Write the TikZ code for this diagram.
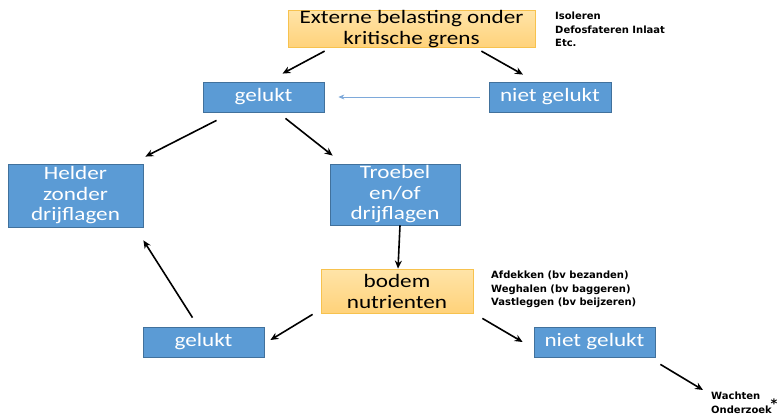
\documentclass[tikz,border=0pt]{standalone}
\usepackage{fontspec}
\setmainfont{Carlito}
\newfontfamily\boxfont[FakeStretch=1.22]{Carlito}
\newfontfamily\notefont{DejaVu Sans}
\usetikzlibrary{arrows.meta}
\definecolor{boxblue}{HTML}{5B9BD5}
\definecolor{boxblueline}{HTML}{41719C}
\definecolor{boxorangetop}{HTML}{FFE4A8}
\definecolor{boxorangebot}{HTML}{FFD27A}
\definecolor{boxorangeline}{HTML}{F7C24E}
\definecolor{thinblue}{HTML}{7EA9DA}
\begin{document}
\begin{tikzpicture}[x=1pt,y=-1pt,
    bluebox/.style={draw=boxblueline, line width=0.8pt, fill=boxblue, text=white,
      align=center, inner sep=0pt, font=\boxfont\fontsize{19}{20.5}\selectfont},
    orangebox/.style={draw=boxorangeline, line width=0.8pt, top color=boxorangetop,
      bottom color=boxorangebot, align=center, inner sep=0pt, font=\boxfont\fontsize{19}{21}\selectfont},
    note/.style={anchor=north west, align=left, inner sep=0pt,
      font=\notefont\bfseries\fontsize{10}{13.5}\selectfont},
    arr/.style={-{Stealth[length=8pt,width=7pt]}, line width=1.6pt}]
        \useasboundingbox (0,0) rectangle (780,417);

        \node[orangebox, minimum width=247pt, minimum height=36pt] (ext) at (411.5,29) {Externe belasting onder\\kritische grens};
        \node[note] (isol) at (555,12) {Isoleren\\Defosfateren Inlaat\\Etc.};

        \node[bluebox, minimum width=121pt, minimum height=30pt] (gtop) at (263.5,97) {gelukt};
        \node[bluebox, minimum width=122pt, minimum height=30pt] (ntop) at (550,97) {niet gelukt};
        \draw[arr] ([xshift=37pt,yshift=-3pt]ext.south west) -- ([xshift=19pt,yshift=8pt]gtop.north);
        \draw[arr] ([xshift=-54pt,yshift=-3pt]ext.south east) -- ([xshift=-27pt,yshift=7pt]ntop.north);
        \draw[-{Stealth[length=6pt,width=5pt]}, thinblue, line width=0.7pt, shorten <=9pt, shorten >=14pt] (ntop.west) -- (gtop.east);

        \node[bluebox, minimum width=135pt, minimum height=63pt] (helder) at (75.5,195.5) {Helder\\zonder\\drijflagen};
        \node[bluebox, minimum width=130pt, minimum height=61pt] (troebel) at (395,194.5) {Troebel\\en/of\\drijflagen};
        \draw[arr] ([xshift=-47pt,yshift=-8pt]gtop.south) -- ([xshift=2pt,yshift=7pt]helder.north east);
        \draw[arr] ([xshift=22pt,yshift=-6pt]gtop.south) -- ([xshift=3pt,yshift=8pt]troebel.north west);

        \node[orangebox, minimum width=152pt, minimum height=44pt] (bodem) at (397,291) {bodem\\nutrienten};
        \node[note] (afd) at (491,271) {Afdekken (bv bezanden)\\Weghalen (bv baggeren)\\Vastleggen (bv beijzeren)};
        \draw[arr] ([xshift=5pt]troebel.south) -- ([xshift=1pt]bodem.north);

        \node[bluebox, minimum width=121pt, minimum height=30pt] (gbot) at (203.5,342) {gelukt};
        \node[bluebox, minimum width=121pt, minimum height=30pt] (nbot) at (594.5,342) {niet gelukt};
        \draw[arr] ([xshift=-8pt,yshift=-1pt]bodem.south west) -- ([xshift=6pt,yshift=2pt]gbot.east);
        \draw[arr] ([xshift=-11pt,yshift=9pt]gbot.north) -- ([yshift=-13pt]helder.south east);
        \draw[arr] ([xshift=9pt,yshift=-5pt]bodem.south east) -- ([xshift=-11pt]nbot.west);

        \node[note] (wacht) at (711,392) {Wachten\\Onderzoek};
        \node[inner sep=0pt, font=\notefont\bfseries\fontsize{13}{13}\selectfont] (star) at (774,404) {*};
        \draw[arr] ([xshift=5pt,yshift=-7pt]nbot.south east) -- ([xshift=-8pt,yshift=2pt]wacht.north west);
\end{tikzpicture}
\end{document}
